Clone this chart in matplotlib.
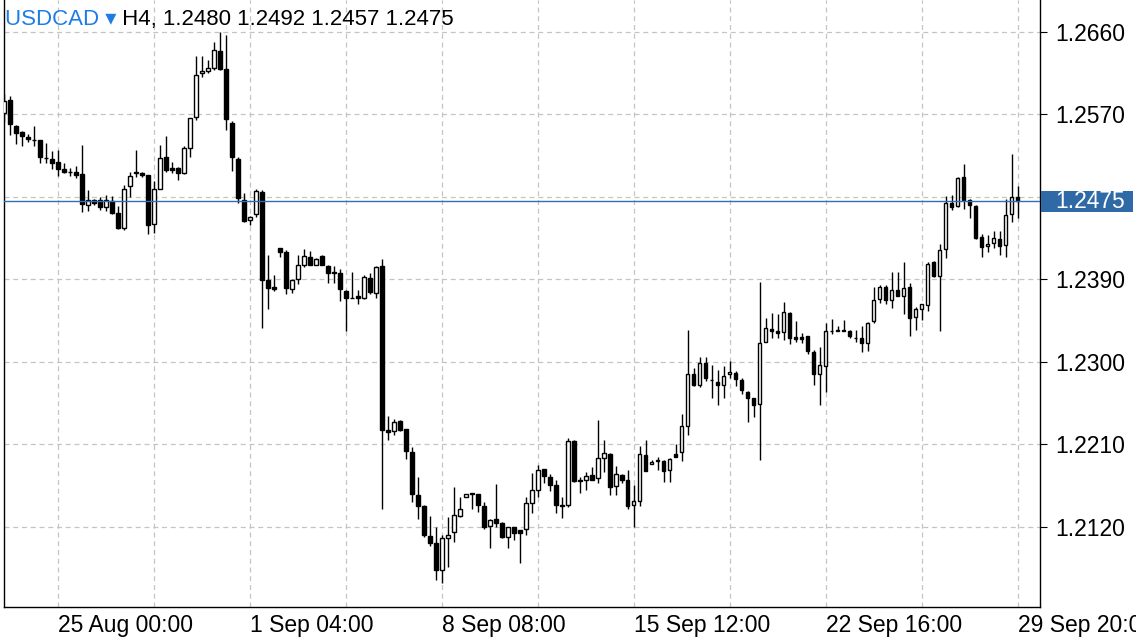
import matplotlib
matplotlib.use("Agg")
import matplotlib.pyplot as plt
from matplotlib.patches import Rectangle
from matplotlib.transforms import blended_transform_factory

plt.rcParams['font.family'] = ['Liberation Sans', 'DejaVu Sans']

# H4 candles, oldest first
opens = [1.2572, 1.2586, 1.2557, 1.2551, 1.2545, 1.2542, 1.2542, 1.2522, 1.2521, 1.2518,
         1.2510, 1.2507, 1.2507, 1.2505, 1.2471, 1.2476, 1.2476, 1.2469, 1.2475, 1.2462,
         1.2446, 1.2492, 1.2507, 1.2506, 1.2504, 1.2450, 1.2489, 1.2523, 1.2511, 1.2512,
         1.2506, 1.2533, 1.2567, 1.2615, 1.2617, 1.2621, 1.2639, 1.2620, 1.2561, 1.2521,
         1.2477, 1.2455, 1.2461, 1.2485, 1.2389, 1.2381, 1.2424, 1.2420, 1.2379, 1.2390,
         1.2406, 1.2414, 1.2406, 1.2415, 1.2404, 1.2398, 1.2397, 1.2377, 1.2370, 1.2372,
         1.2369, 1.2391, 1.2375, 1.2404, 1.2225, 1.2224, 1.2235, 1.2226, 1.2201, 1.2154,
         1.2142, 1.2110, 1.2102, 1.2072, 1.2107, 1.2114, 1.2132, 1.2152, 1.2156, 1.2155,
         1.2142, 1.2121, 1.2128, 1.2124, 1.2108, 1.2119, 1.2116, 1.2117, 1.2146, 1.2160,
         1.2183, 1.2174, 1.2165, 1.2144, 1.2143, 1.2213, 1.2171, 1.2171, 1.2176, 1.2173,
         1.2195, 1.2199, 1.2164, 1.2176, 1.2171, 1.2143, 1.2148, 1.2198, 1.2188, 1.2192,
         1.2192, 1.2182, 1.2199, 1.2201, 1.2230, 1.2287, 1.2275, 1.2299, 1.2280, 1.2278,
         1.2275, 1.2286, 1.2288, 1.2280, 1.2267, 1.2260, 1.2254, 1.2321, 1.2336, 1.2333,
         1.2332, 1.2353, 1.2327, 1.2327, 1.2328, 1.2311, 1.2286, 1.2295, 1.2333, 1.2334,
         1.2334, 1.2334, 1.2326, 1.2326, 1.2320, 1.2344, 1.2368, 1.2382, 1.2367, 1.2378,
         1.2372, 1.2381, 1.2349, 1.2358, 1.2362, 1.2409, 1.2394, 1.2423, 1.2473, 1.2470,
         1.2502, 1.2477, 1.2470, 1.2436, 1.2426, 1.2430, 1.2434, 1.2427, 1.2461, 1.2480]
highs = [1.2592, 1.2590, 1.2558, 1.2552, 1.2549, 1.2557, 1.2542, 1.2539, 1.2530, 1.2531,
         1.2517, 1.2511, 1.2514, 1.2537, 1.2487, 1.2478, 1.2480, 1.2482, 1.2481, 1.2470,
         1.2493, 1.2507, 1.2531, 1.2507, 1.2504, 1.2497, 1.2537, 1.2546, 1.2518, 1.2513,
         1.2535, 1.2566, 1.2634, 1.2634, 1.2629, 1.2649, 1.2660, 1.2657, 1.2563, 1.2524,
         1.2484, 1.2459, 1.2488, 1.2487, 1.2416, 1.2395, 1.2424, 1.2422, 1.2390, 1.2416,
         1.2423, 1.2421, 1.2413, 1.2416, 1.2405, 1.2404, 1.2401, 1.2378, 1.2398, 1.2378,
         1.2395, 1.2397, 1.2404, 1.2412, 1.2241, 1.2237, 1.2236, 1.2227, 1.2207, 1.2174,
         1.2143, 1.2131, 1.2120, 1.2111, 1.2130, 1.2163, 1.2152, 1.2156, 1.2157, 1.2156,
         1.2147, 1.2128, 1.2166, 1.2125, 1.2120, 1.2120, 1.2116, 1.2152, 1.2178, 1.2187,
         1.2183, 1.2177, 1.2171, 1.2152, 1.2217, 1.2214, 1.2174, 1.2180, 1.2185, 1.2236,
         1.2214, 1.2200, 1.2186, 1.2177, 1.2182, 1.2165, 1.2208, 1.2214, 1.2193, 1.2196,
         1.2193, 1.2195, 1.2210, 1.2243, 1.2335, 1.2293, 1.2305, 1.2305, 1.2296, 1.2291,
         1.2295, 1.2301, 1.2290, 1.2282, 1.2268, 1.2260, 1.2387, 1.2348, 1.2353, 1.2352,
         1.2365, 1.2354, 1.2344, 1.2331, 1.2328, 1.2313, 1.2316, 1.2342, 1.2347, 1.2339,
         1.2346, 1.2335, 1.2335, 1.2339, 1.2343, 1.2381, 1.2384, 1.2384, 1.2398, 1.2398,
         1.2409, 1.2386, 1.2360, 1.2363, 1.2409, 1.2410, 1.2429, 1.2481, 1.2482, 1.2502,
         1.2516, 1.2478, 1.2471, 1.2439, 1.2438, 1.2443, 1.2443, 1.2478, 1.2527, 1.2492]
lows = [1.2562, 1.2548, 1.2538, 1.2535, 1.2540, 1.2535, 1.2517, 1.2517, 1.2510, 1.2503,
        1.2506, 1.2503, 1.2500, 1.2463, 1.2465, 1.2471, 1.2466, 1.2464, 1.2461, 1.2445,
        1.2444, 1.2480, 1.2502, 1.2502, 1.2439, 1.2440, 1.2488, 1.2507, 1.2506, 1.2498,
        1.2505, 1.2523, 1.2564, 1.2611, 1.2615, 1.2619, 1.2619, 1.2553, 1.2508, 1.2473,
        1.2453, 1.2449, 1.2458, 1.2337, 1.2357, 1.2377, 1.2414, 1.2374, 1.2375, 1.2385,
        1.2403, 1.2406, 1.2405, 1.2405, 1.2386, 1.2386, 1.2366, 1.2333, 1.2369, 1.2363,
        1.2368, 1.2374, 1.2369, 1.2139, 1.2214, 1.2220, 1.2224, 1.2194, 1.2147, 1.2128,
        1.2108, 1.2099, 1.2062, 1.2058, 1.2076, 1.2103, 1.2130, 1.2152, 1.2139, 1.2136,
        1.2117, 1.2096, 1.2120, 1.2107, 1.2096, 1.2105, 1.2080, 1.2111, 1.2135, 1.2152,
        1.2167, 1.2159, 1.2135, 1.2129, 1.2141, 1.2169, 1.2157, 1.2160, 1.2171, 1.2167,
        1.2180, 1.2154, 1.2154, 1.2168, 1.2139, 1.2119, 1.2142, 1.2181, 1.2188, 1.2182,
        1.2169, 1.2169, 1.2196, 1.2191, 1.2220, 1.2273, 1.2272, 1.2279, 1.2260, 1.2253,
        1.2260, 1.2282, 1.2273, 1.2265, 1.2234, 1.2240, 1.2193, 1.2321, 1.2326, 1.2326,
        1.2324, 1.2319, 1.2322, 1.2320, 1.2308, 1.2275, 1.2253, 1.2267, 1.2330, 1.2333,
        1.2333, 1.2326, 1.2322, 1.2310, 1.2312, 1.2342, 1.2364, 1.2363, 1.2359, 1.2372,
        1.2352, 1.2328, 1.2335, 1.2345, 1.2355, 1.2392, 1.2333, 1.2413, 1.2466, 1.2469,
        1.2467, 1.2457, 1.2434, 1.2414, 1.2420, 1.2424, 1.2417, 1.2414, 1.2452, 1.2457]
closes = [1.2585, 1.2559, 1.2550, 1.2546, 1.2543, 1.2542, 1.2523, 1.2522, 1.2517, 1.2510,
          1.2507, 1.2507, 1.2504, 1.2472, 1.2477, 1.2473, 1.2469, 1.2476, 1.2462, 1.2446,
          1.2489, 1.2503, 1.2506, 1.2504, 1.2449, 1.2489, 1.2522, 1.2509, 1.2509, 1.2506,
          1.2533, 1.2566, 1.2613, 1.2617, 1.2621, 1.2640, 1.2620, 1.2565, 1.2523, 1.2479,
          1.2454, 1.2458, 1.2486, 1.2389, 1.2380, 1.2379, 1.2420, 1.2380, 1.2389, 1.2406,
          1.2415, 1.2406, 1.2412, 1.2406, 1.2397, 1.2397, 1.2379, 1.2370, 1.2369, 1.2370,
          1.2392, 1.2376, 1.2403, 1.2225, 1.2223, 1.2234, 1.2225, 1.2202, 1.2155, 1.2142,
          1.2111, 1.2102, 1.2072, 1.2107, 1.2111, 1.2133, 1.2139, 1.2156, 1.2156, 1.2143,
          1.2120, 1.2127, 1.2124, 1.2108, 1.2119, 1.2113, 1.2113, 1.2146, 1.2160, 1.2182,
          1.2175, 1.2165, 1.2143, 1.2142, 1.2213, 1.2170, 1.2170, 1.2175, 1.2171, 1.2195,
          1.2200, 1.2163, 1.2177, 1.2171, 1.2142, 1.2148, 1.2199, 1.2181, 1.2190, 1.2192,
          1.2181, 1.2194, 1.2196, 1.2230, 1.2287, 1.2275, 1.2298, 1.2282, 1.2280, 1.2274,
          1.2284, 1.2289, 1.2281, 1.2269, 1.2260, 1.2253, 1.2320, 1.2337, 1.2334, 1.2331,
          1.2354, 1.2326, 1.2325, 1.2325, 1.2312, 1.2287, 1.2296, 1.2333, 1.2334, 1.2334,
          1.2335, 1.2328, 1.2326, 1.2320, 1.2342, 1.2367, 1.2381, 1.2367, 1.2378, 1.2372,
          1.2380, 1.2348, 1.2358, 1.2363, 1.2407, 1.2393, 1.2422, 1.2473, 1.2469, 1.2501,
          1.2476, 1.2471, 1.2435, 1.2425, 1.2428, 1.2435, 1.2426, 1.2460, 1.2480, 1.2475]

price_levels = [1.2660, 1.2570, 1.2480, 1.2390, 1.2300, 1.2210, 1.2120]
price_labels = ['1.2660', '1.2570', '', '1.2390', '1.2300', '1.2210', '1.2120']
date_pos = [9, 41, 73, 105, 137, 169]
date_labels = ['25 Aug 00:00', '1 Sep 04:00', '8 Sep 08:00', '15 Sep 12:00',
               '22 Sep 16:00', '29 Sep 20:00']
vgrid_pos = list(range(9, 170, 16))
last_price = 1.2475

fig = plt.figure(figsize=(11.36, 6.4), dpi=100)
ax = fig.add_axes([4 / 1136, 33 / 640, 1036 / 1136, 607 / 640])

grid_kw = dict(color='#c4c4c4', lw=0.9, dashes=(4, 3), zorder=0)
for p in price_levels:
    ax.axhline(p, **grid_kw)
for v in vgrid_pos:
    ax.axvline(v, **grid_kw)

x = list(range(len(opens)))
ax.vlines(x, lows, highs, color='black', lw=1.0, zorder=2)
bottoms = [min(o, c) for o, c in zip(opens, closes)]
heights = [max(abs(c - o), 0.00001) for o, c in zip(opens, closes)]
colors = ['black' if c < o else 'white' for o, c in zip(opens, closes)]
ax.bar(x, heights, bottom=bottoms, width=0.6, color=colors,
       edgecolor='black', linewidth=1.0, zorder=3)

ax.axhline(last_price, color='#2f6fb3', lw=1.0, zorder=4)

ax.set_xlim(0.0, 172.75)
ax.set_ylim(1.20321, 1.26949)

ax.yaxis.tick_right()
ax.set_yticks(price_levels, price_labels)
ax.tick_params(axis='y', direction='out', length=5, width=0.8, pad=6,
               labelsize=16.5, colors='black')
ax.set_xticks(date_pos, date_labels)
ax.tick_params(axis='x', direction='out', length=0, pad=5, labelsize=16.5)
for lab in ax.get_xticklabels():
    lab.set_ha('left')

for s in ['left', 'right', 'bottom']:
    ax.spines[s].set_linewidth(1.0)
    ax.spines[s].set_color('black')
ax.spines['top'].set_visible(False)

# current price box on the right scale
tr = blended_transform_factory(fig.transFigure, ax.transData)
box_h = 0.00228
ax.add_patch(Rectangle((1041 / 1136, last_price - box_h / 2), 92 / 1136, box_h,
                       transform=tr, facecolor='#2f6aa7', edgecolor='none',
                       clip_on=False, zorder=5))
ax.text(1055 / 1136, last_price, '1.2475', transform=tr, color='white',
        fontsize=16.5, ha='left', va='center', zorder=6)

t1 = ax.text(1 / 1036, 0.968, 'USDCAD \u25be', transform=ax.transAxes,
             color='#1f7ce6', fontsize=16, ha='left', va='center', zorder=6)
ax.annotate(' H4, 1.2480 1.2492 1.2457 1.2475', xy=(1, 0), xycoords=t1,
            va='bottom', ha='left', fontsize=16, color='black', zorder=6)

fig.savefig('out.png', dpi=100)
